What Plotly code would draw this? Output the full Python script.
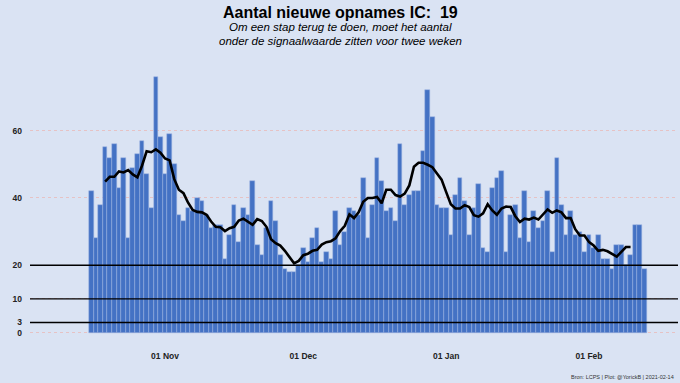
import pandas as pd
import plotly.graph_objects as go

# ---------------- data ----------------
start_date = "2020-10-16"
ic_admissions = [
    42, 28, 38, 55, 52, 56, 43, 52, 28, 49,
    53, 57, 47, 37, 76, 58, 47, 59, 50, 35,
    33, 37, 36, 40, 39, 35, 31, 32, 32, 22,
    29, 38, 27, 37, 35, 45, 26, 23, 31, 39,
    33, 23, 19, 18, 18, 20, 25, 21, 28, 31,
    21, 24, 22, 36, 26, 30, 37, 36, 35, 46,
    28, 38, 52, 45, 36, 37, 33, 56, 38, 41,
    42, 42, 54, 72, 64, 38, 37, 37, 29, 41,
    46, 39, 29, 37, 44, 25, 24, 43, 46, 48,
    24, 35, 38, 28, 42, 27, 36, 31, 33, 42,
    24, 52, 38, 29, 36, 29, 30, 24, 29, 25,
    29, 22, 22, 19, 26, 26, 20, 23, 32, 32,
    19,
]
signal_levels = [20, 10, 3]
y_tick_values = [0, 3, 10, 20, 40, 60]
x_tick_dates = ["2020-11-01", "2020-12-01", "2021-01-01", "2021-02-01"]
x_tick_labels = ["01 Nov", "01 Dec", "01 Jan", "01 Feb"]

title_text = "Aantal nieuwe opnames IC:\u00a0 " + str(ic_admissions[-1])
subtitle_lines = ["Om een stap terug te doen, moet het aantal",
                  "onder de signaalwaarde zitten voor twee weken"]
caption_text = "Bron: LCPS | Plot: @YorickB | 2021-02-14"

# ---------------- derived ----------------
dates = pd.date_range(start_date, periods=len(ic_admissions), freq="D")
ma7 = pd.Series(ic_admissions).rolling(7, center=True).mean()

BG = "#DAE3F3"
BAR = "#4472C4"
FONT = "Liberation Sans, Arial, sans-serif"

fig = go.Figure()
fig.add_trace(go.Bar(
    x=dates, y=ic_admissions,
    marker=dict(color=BAR, line=dict(color="#9DB5E2", width=0.5)),
    hoverinfo="x+y",
))
fig.add_trace(go.Scatter(
    x=dates, y=ma7, mode="lines",
    line=dict(color="black", width=2.6),
    hoverinfo="skip",
))

for lvl in signal_levels:
    fig.add_shape(type="line", xref="paper", x0=0, x1=1, yref="y", y0=lvl, y1=lvl,
                  line=dict(color="black", width=1.3), layer="above")

# layout geometry
L, R, T, B = 30, 2, 70, 42
W, H = 680, 383
pw = W - L - R
ph = H - T - B
px_per_day = 4.609
x0 = pd.Timestamp(start_date) - pd.Timedelta(days=13.3)
x1 = x0 + pd.Timedelta(days=pw / px_per_day)

def px_x(p):
    return (p - L) / pw

def px_y(p):
    return (H - B - p) / ph

fig.update_layout(
    width=W, height=H,
    margin=dict(l=L, r=R, t=T, b=B),
    paper_bgcolor=BG, plot_bgcolor=BG,
    showlegend=False,
    bargap=0.0,
    font=dict(family=FONT, color="#222222"),
    xaxis=dict(
        range=[x0, x1], showgrid=False, zeroline=False, showline=False,
        tickvals=pd.to_datetime(x_tick_dates), ticktext=x_tick_labels,
        tickfont=dict(size=8.5, family=FONT, color="#222222", weight="bold"),
        ticks="", ticklabelstandoff=8,
    ),
    yaxis=dict(
        range=[-2.5, 78], showgrid=True, gridcolor="#E6C2C4", griddash="dot", gridwidth=1,
        zeroline=False, showline=False,
        tickvals=y_tick_values,
        tickfont=dict(size=8.5, family=FONT, color="#222222", weight="bold"),
        ticks="", ticklabelstandoff=7,
    ),
    annotations=[
        dict(text="<b>" + title_text + "</b>", xref="paper", yref="paper",
             x=px_x(340), y=px_y(12), xanchor="center", yanchor="middle",
             showarrow=False, font=dict(size=16, family=FONT, color="black")),
        dict(text="<i>" + subtitle_lines[0] + "</i>", xref="paper", yref="paper",
             x=px_x(340), y=px_y(27), xanchor="center", yanchor="middle",
             showarrow=False, font=dict(size=11.5, family=FONT, color="black")),
        dict(text="<i>" + subtitle_lines[1] + "</i>", xref="paper", yref="paper",
             x=px_x(340), y=px_y(41), xanchor="center", yanchor="middle",
             showarrow=False, font=dict(size=11.5, family=FONT, color="black")),
        dict(text=caption_text, xref="paper", yref="paper",
             x=px_x(676), y=px_y(377), xanchor="right", yanchor="middle",
             showarrow=False, font=dict(size=5.5, family=FONT, color="#333333")),
    ],
)

fig.write_html(
    "out.html",
    config={"displayModeBar": False},
    post_script="document.body.style.margin='0';document.body.style.overflow='hidden';",
)
